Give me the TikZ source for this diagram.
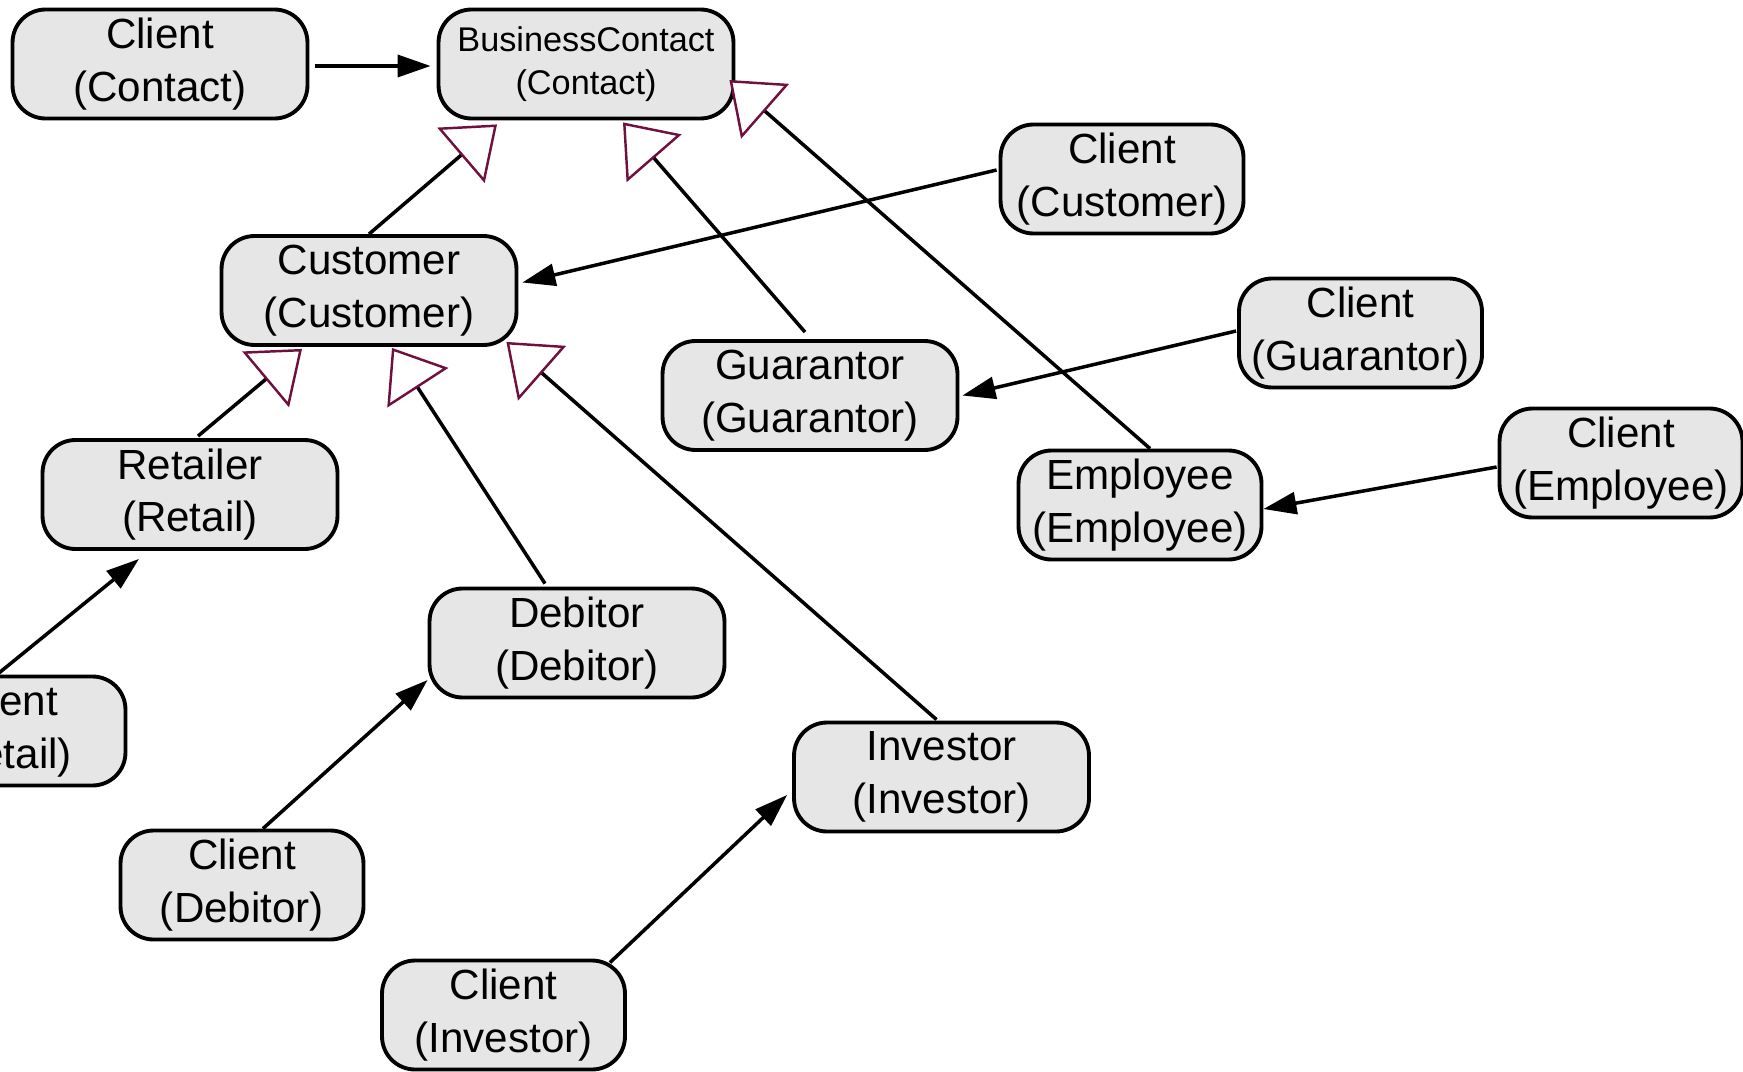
\documentclass[tikz,border=0pt]{standalone}
\usepackage{fontspec}
\setmainfont{Liberation Sans}
\usetikzlibrary{arrows.meta,calc}
\definecolor{boxgray}{HTML}{E6E6E6}
\definecolor{maroon1}{HTML}{70103F}
\definecolor{ink}{HTML}{000000}

\begin{document}
\begin{tikzpicture}[x=0.02cm,y=-0.02cm,
  box/.style={draw=ink,fill=boxgray,line width=2.2pt,rounded corners=0.66cm,
    minimum width=5.9cm,minimum height=2.18cm,align=center,inner sep=0pt,
    font=\fontsize{24}{30}\selectfont},
  clientbox/.style={box,minimum width=4.86cm},
  assoc/.style={-{Triangle[length=0.66cm,width=0.44cm]},ink,line width=2pt},
  gen/.style={-{Triangle[length=0.95cm,width=1.45cm,color=maroon1,fill=white,line width=1.4pt]},
    ink,line width=2pt}]
  \useasboundingbox (0,0) rectangle (1743,1071);
  \clip (0,0) rectangle (1743,1071);
  % contact
  \node[box] (ccon) at (160,64) {Client\\(Contact)};
  \node[box,font=\fontsize{19.5}{24.5}\selectfont] (bc) at (586,64) {BusinessContact\\(Contact)};
  % customer side
  \node[box] (cust) at (369,290.5) {Customer\\(Customer)};
  \node[clientbox] (ccus) at (1122,179) {Client\\(Customer)};
  \node[box] (ret) at (190,494.5) {Retailer\\(Retail)};
  \node[clientbox] (cret) at (4,731) {Client\\(Retail)};
  \node[box] (deb) at (577,643) {Debitor\\(Debitor)};
  \node[clientbox] (cdeb) at (242,885) {Client\\(Debitor)};
  \node[box] (inv) at (941.5,777) {Investor\\(Investor)};
  \node[clientbox] (cinv) at (503.5,1015) {Client\\(Investor)};
  % guarantor, employee
  \node[box] (guar) at (810,395.5) {Guarantor\\(Guarantor)};
  \node[clientbox] (cgua) at (1360.5,333) {Client\\(Guarantor)};
  \node[clientbox] (emp) at (1140,505) {Employee\\(Employee)};
  \node[clientbox] (cemp) at (1621,463) {Client\\(Employee)};
  % generalizations
  \draw[gen] (cust.north) -- ($(bc.south)+(-89,4)$);
  \draw[gen] ($(guar.north)+(-5,-7)$) -- ($(bc.south)+(37,2)$);
  \draw[gen] ($(emp.north)+(10,0)$) -- ($(bc.east)+(-6,16)$);
  \draw[gen] ($(ret.north)+(8,-2)$) -- ($(cust.south)+(-67,2)$);
  \draw[gen] ($(deb.north)+(-32,-3)$) -- ($(cust.south)+(23,1)$);
  \draw[gen] ($(inv.north)+(-5,-1)$) -- ($(cust.south east)+(-12,-5)$);
  % client links
  \draw[assoc] ($(ccon.east)+(6,2)$) -- ($(bc.west)+(-6,2)$);
  \draw[assoc] ($(ccus.west)+(-2,-9)$) -- ($(cust.east)+(4,-8)$);
  \draw[assoc] ($(cgua.west)+(-1,-2)$) -- ($(guar.east)+(3,0)$);
  \draw[assoc] ($(cemp.west)+(-1,4)$) -- ($(emp.east)+(0,4)$);
  \draw[assoc] ($(cret.north)+(-7,0)$) -- ($(ret.south)+(-51,8)$);
  \draw[assoc] ($(cdeb.north)+(21,0)$) -- ($(deb.west)+(0,37)$);
  \draw[assoc] ($(cinv.north east)+(-17,4)$) -- ($(inv.west)+(-5,18)$);
\end{tikzpicture}
\end{document}
